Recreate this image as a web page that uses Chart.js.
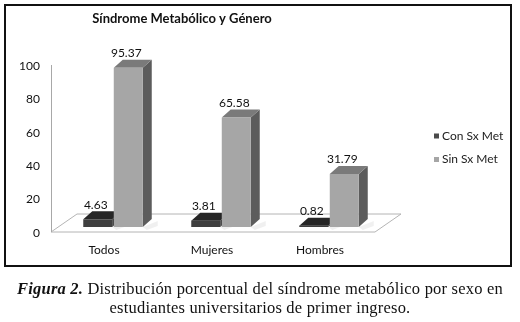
<!DOCTYPE html>
<html><head><meta charset="utf-8">
<script src="https://cdn.jsdelivr.net/npm/chart.js@4/dist/chart.umd.min.js"></script>
<style>
html,body{margin:0;padding:0;background:#fff;}
body{width:520px;height:322px;position:relative;overflow:hidden;}
#wrap{position:absolute;left:0;top:0;width:520px;height:270px;}
#frame{position:absolute;left:4px;top:4px;width:508px;height:263px;box-sizing:border-box;border:2px solid #111;pointer-events:none;}
#cap{position:absolute;left:0;top:279px;width:520px;text-align:center;font-family:"Liberation Serif","DejaVu Serif",serif;font-size:16.5px;letter-spacing:0.2px;line-height:19px;color:#111;}
</style></head>
<body>
<div id="wrap"><canvas id="c" width="520" height="270"></canvas></div>
<div id="frame"></div>
<div id="cap"><b><i>Figura 2.</i></b> Distribución porcentual del síndrome metabólico por sexo en<br>estudiantes universitarios de primer ingreso.</div>
<script>
const chartTitle = "Síndrome Metabólico y Género";
const categories = ["Todos", "Mujeres", "Hombres"];
const seriesNames = ["Con Sx Met", "Sin Sx Met"];
const conSxMet = [4.63, 3.81, 0.82];
const sinSxMet = [95.37, 65.58, 31.79];
const yTicks = [0, 20, 40, 60, 80, 100];

const FRONT = ["#3f3f3f", "#a6a6a6"];
const TOP = ["#262626", "#7a7a7a"];
const SIDE = ["#2f2f2f", "#5c5c5c"];
const LEGEND = ["#4a4a4a", "#a6a6a6"];
const DX = 9, DY = 8;
const FONT = "Lato, 'Open Sans', sans-serif";

const threeD = {
  id: 'threeD',
  beforeDatasetsDraw(chart) {
    const ctx = chart.ctx, a = chart.chartArea;
    ctx.save();
    const fl = a.left - 8, fr = a.right - 8, fy = a.bottom + 5;
    const bdx = 26, bdy = 18;
    ctx.beginPath();
    ctx.moveTo(fl, fy); ctx.lineTo(fr, fy);
    ctx.lineTo(fr + bdx, fy - bdy); ctx.lineTo(fl + bdx, fy - bdy);
    ctx.closePath();
    ctx.fillStyle = '#fff'; ctx.fill();
    ctx.strokeStyle = '#b4b4b4'; ctx.lineWidth = 1; ctx.stroke();
    ctx.beginPath();
    ctx.moveTo(fl + 0.5, chart.scales.y.getPixelForValue(100) + 5);
    ctx.lineTo(fl + 0.5, fy);
    ctx.strokeStyle = '#a8a8a8'; ctx.stroke();
    chart.data.datasets.forEach((ds, di) => {
      chart.getDatasetMeta(di).data.forEach(bar => {
        const p = bar.getProps(['x', 'y', 'base', 'width'], true);
        const l = p.x - p.width / 2, r = p.x + p.width / 2;
        ctx.fillStyle = 'rgba(0,0,0,0.06)';
        ctx.beginPath();
        ctx.moveTo(r, p.base); ctx.lineTo(r + DX + 6, p.base - DY + 2);
        ctx.lineTo(r + DX + 6, p.base - 1); ctx.lineTo(r + 4, p.base + 3);
        ctx.closePath(); ctx.fill();
        ctx.fillStyle = SIDE[di];
        ctx.beginPath();
        ctx.moveTo(r, p.y); ctx.lineTo(r + DX, p.y - DY);
        ctx.lineTo(r + DX, p.base - DY); ctx.lineTo(r, p.base);
        ctx.closePath(); ctx.fill();
        ctx.fillStyle = TOP[di];
        ctx.beginPath();
        ctx.moveTo(l, p.y); ctx.lineTo(l + DX, p.y - DY);
        ctx.lineTo(r + DX, p.y - DY); ctx.lineTo(r, p.y);
        ctx.closePath(); ctx.fill();
      });
    });
    ctx.restore();
  },
  afterDatasetsDraw(chart) {
    const ctx = chart.ctx;
    ctx.save();
    ctx.font = "12px " + FONT;
    ctx.fillStyle = '#111';
    ctx.textAlign = 'center'; ctx.textBaseline = 'middle';
    chart.data.datasets.forEach((ds, di) => {
      chart.getDatasetMeta(di).data.forEach((bar, i) => {
        const p = bar.getProps(['x', 'y'], true);
        ctx.fillText(ds.data[i].toFixed(2), p.x - 2, p.y - DY - 6.5);
      });
    });
    ctx.restore();
  },
  afterDraw(chart) {
    const ctx = chart.ctx;
    ctx.save();
    ctx.fillStyle = '#111';
    ctx.font = "bold 13px " + FONT;
    ctx.textAlign = 'center'; ctx.textBaseline = 'middle';
    ctx.fillText(chartTitle, 182, 19);
    ctx.font = "12px " + FONT;
    ctx.textAlign = 'left';
    chart.data.datasets.forEach((ds, di) => {
      const y = 136 + di * 23.5;
      ctx.fillStyle = LEGEND[di];
      ctx.fillRect(434, y - 2.5, 5, 5);
      ctx.fillStyle = '#222';
      ctx.fillText(ds.label, 442, y);
    });
    ctx.restore();
  }
};

new Chart(document.getElementById('c'), {
  type: 'bar',
  data: {
    labels: categories,
    datasets: [
      { label: seriesNames[0], data: conSxMet, backgroundColor: FRONT[0] },
      { label: seriesNames[1], data: sinSxMet, backgroundColor: FRONT[1] }
    ]
  },
  options: {
    responsive: false,
    animation: false,
    events: [],
    datasets: { bar: { categoryPercentage: 0.565, barPercentage: 0.95 } },
    layout: { padding: { left: 0, right: 137, top: 60, bottom: 0 } },
    plugins: { legend: { display: false }, title: { display: false }, tooltip: { enabled: false } },
    scales: {
      x: {
        grid: { display: false, drawTicks: false },
        border: { display: false },
        ticks: { color: '#111', font: { family: FONT, size: 12 }, padding: 16, labelOffset: -9 },
        afterFit(s) { s.height = 43; }
      },
      y: {
        min: 0, max: 100,
        afterBuildTicks(s) { s.ticks = yTicks.map(v => ({ value: v })); },
        grid: { display: false, drawTicks: false },
        border: { display: false },
        ticks: { color: '#111', font: { family: FONT, size: 12 }, padding: 19, labelOffset: 6 },
        afterFit(s) { s.width = 59; }
      }
    }
  },
  plugins: [threeD]
});
</script>
</body></html>
